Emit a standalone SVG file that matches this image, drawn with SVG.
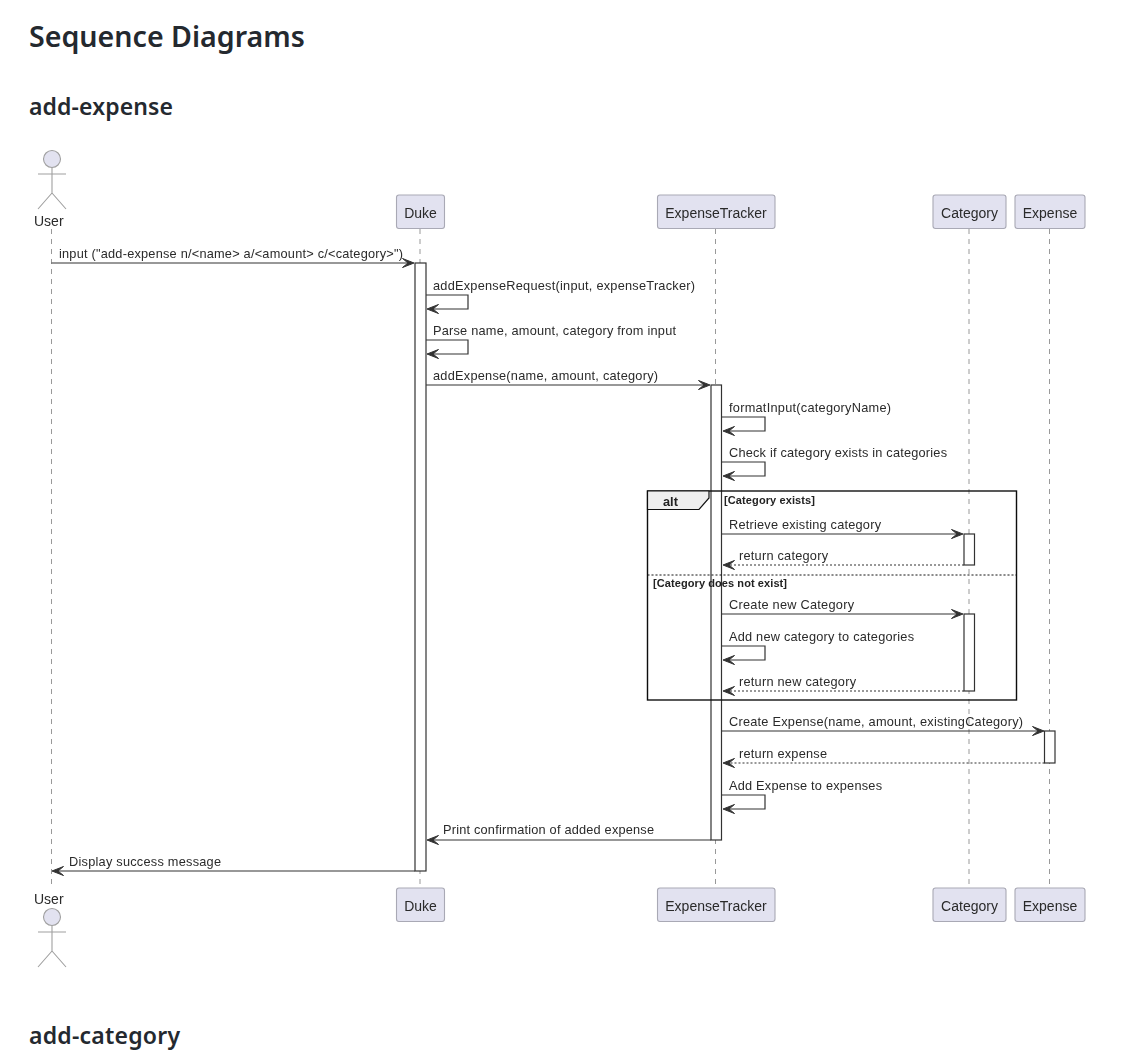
<svg xmlns="http://www.w3.org/2000/svg" width="1134" height="1058" viewBox="0 0 1134 1058">
<style>
.h1{font:600 28.6px "Noto Sans","Open Sans",sans-serif;fill:#24292f}
.h2{font:600 23px "Noto Sans","Open Sans",sans-serif;fill:#24292f}
.t{font:12.75px "Liberation Sans",Arial,sans-serif;fill:#2a2a2a}
.n{font:14px "Liberation Sans",Arial,sans-serif;fill:#2a2a2a}
.g{font:bold 11px "Liberation Sans",Arial,sans-serif;fill:#222}
.a{font:bold 12.75px "Liberation Sans",Arial,sans-serif;fill:#222}
.box{fill:#e2e2f0;stroke:#a9a9b5;stroke-width:1.1}
.act{fill:#fff;stroke:#333;stroke-width:1.2}
.life{stroke:#999;stroke-width:1;stroke-dasharray:5 5;fill:none}
.m{stroke:#333;stroke-width:1.2;fill:none}
.d{stroke:#333;stroke-width:1.2;fill:none;stroke-dasharray:2 2}
.hd{fill:#333;stroke:#333;stroke-width:1}
.ac{stroke:#a0a0a0;stroke-width:1.1;fill:none}
</style>
<defs>
<filter id="soft" filterUnits="userSpaceOnUse" x="0" y="0" width="1134" height="1058"><feGaussianBlur stdDeviation="0.35"/></filter>
<path id="ar" class="hd" d="M0 0 L-11.5 -4.5 L-6 0 L-11.5 4.5 Z"/>
<path id="al" class="hd" d="M0 0 L11.5 -4.5 L6 0 L11.5 4.5 Z"/>
<g id="stick"><circle cx="0" cy="0" r="8.5" fill="#e2e2f0" stroke="#a0a0a0" stroke-width="1.1"/><path class="ac" d="M0 8.5V34M-14 15H14M0 34L-14 50M0 34L14 50"/></g>
</defs>
<rect width="1134" height="1058" fill="#fff"/>
<text class="h1" x="29" y="47">Sequence Diagrams</text>
<text class="h2" x="29" y="115" textLength="144">add-expense</text>
<text class="h2" x="29" y="1044" textLength="151">add-category</text>
<g filter="url(#soft)">
<g id="lifelines">
<path class="life" d="M51.5 229V888"/>
<path class="life" d="M420 229V888"/>
<path class="life" d="M715.5 229V888"/>
<path class="life" d="M969 229V888"/>
<path class="life" d="M1049.5 229V888"/>
</g>
<g id="activations">
<rect class="act" x="415" y="263" width="11" height="608"/>
<rect class="act" x="711" y="385" width="10.5" height="455"/>
<rect class="act" x="964" y="534" width="10.5" height="31"/>
<rect class="act" x="964" y="614" width="10.5" height="77"/>
<rect class="act" x="1044.5" y="731" width="10.5" height="32"/>
</g>
<g id="frame-alt">
<rect x="647.5" y="491" width="369" height="209" fill="none" stroke="#111" stroke-width="1.4"/>
<path d="M647.5 491H709V498L699 509.5H647.5Z" fill="#eee" stroke="#111" stroke-width="1.2"/>
<path d="M647.5 575H1016.5" stroke="#111" stroke-width="1" stroke-dasharray="2 2" fill="none"/>
<text class="a" x="663" y="506">alt</text>
<text class="g" x="724" y="504" textLength="91">[Category exists]</text>
<text class="g" x="653" y="587" textLength="134">[Category does not exist]</text>
</g>
<g id="connectors">
<path class="m" d="M51.5 263H410"/><use href="#ar" x="414" y="263"/>
<path class="m" d="M426 295H468V309H431"/><use href="#al" x="427" y="309"/>
<path class="m" d="M426 340H468V354H431"/><use href="#al" x="427" y="354"/>
<path class="m" d="M426 385H706"/><use href="#ar" x="710" y="385"/>
<path class="m" d="M721.5 417H765V431H727"/><use href="#al" x="723" y="431"/>
<path class="m" d="M721.5 462H765V476H727"/><use href="#al" x="723" y="476"/>
<path class="m" d="M721.5 534H959"/><use href="#ar" x="963" y="534"/>
<path class="d" d="M964 565H728"/><use href="#al" x="723" y="565"/>
<path class="m" d="M721.5 614H959"/><use href="#ar" x="963" y="614"/>
<path class="m" d="M721.5 646H765V660H727"/><use href="#al" x="723" y="660"/>
<path class="d" d="M964 691H728"/><use href="#al" x="723" y="691"/>
<path class="m" d="M721.5 731H1040"/><use href="#ar" x="1044" y="731"/>
<path class="d" d="M1044.5 763H728"/><use href="#al" x="723" y="763"/>
<path class="m" d="M721.5 795H765V809H727"/><use href="#al" x="723" y="809"/>
<path class="m" d="M711 840H431"/><use href="#al" x="427" y="840"/>
<path class="m" d="M415 871H56"/><use href="#al" x="52" y="871"/>
</g>
<g id="labels">
<text class="t" x="59" y="258" textLength="344">input ("add-expense n/&lt;name&gt; a/&lt;amount&gt; c/&lt;category&gt;")</text>
<text class="t" x="433" y="290" textLength="262">addExpenseRequest(input, expenseTracker)</text>
<text class="t" x="433" y="335" textLength="243">Parse name, amount, category from input</text>
<text class="t" x="433" y="380" textLength="225">addExpense(name, amount, category)</text>
<text class="t" x="729" y="412" textLength="162">formatInput(categoryName)</text>
<text class="t" x="729" y="457" textLength="218">Check if category exists in categories</text>
<text class="t" x="729" y="529" textLength="152">Retrieve existing category</text>
<text class="t" x="739" y="560" textLength="89">return category</text>
<text class="t" x="729" y="609" textLength="125">Create new Category</text>
<text class="t" x="729" y="641" textLength="185">Add new category to categories</text>
<text class="t" x="739" y="686" textLength="117">return new category</text>
<text class="t" x="729" y="726" textLength="294">Create Expense(name, amount, existingCategory)</text>
<text class="t" x="739" y="758" textLength="88">return expense</text>
<text class="t" x="729" y="790" textLength="153">Add Expense to expenses</text>
<text class="t" x="443" y="834" textLength="211">Print confirmation of added expense</text>
<text class="t" x="69" y="866" textLength="152">Display success message</text>
</g>
</g>
<g filter="url(#soft)">
<g id="node-user-top"><use href="#stick" x="52" y="159"/><text class="n" x="34" y="226">User</text></g>
<g id="node-duke-top"><rect class="box" x="396.5" y="195" width="48" height="33.5" rx="2.5"/><text class="n" x="420.5" y="218" text-anchor="middle">Duke</text></g>
<g id="node-tracker-top"><rect class="box" x="657.5" y="195" width="117.5" height="33.5" rx="2.5"/><text class="n" x="716" y="218" text-anchor="middle">ExpenseTracker</text></g>
<g id="node-category-top"><rect class="box" x="933" y="195" width="73" height="33.5" rx="2.5"/><text class="n" x="969.5" y="218" text-anchor="middle">Category</text></g>
<g id="node-expense-top"><rect class="box" x="1015" y="195" width="70" height="33.5" rx="2.5"/><text class="n" x="1050" y="218" text-anchor="middle">Expense</text></g>
<g id="node-user-bottom"><text class="n" x="34" y="904">User</text><use href="#stick" x="52" y="917"/></g>
<g id="node-duke-bottom"><rect class="box" x="396.5" y="888" width="48" height="33.5" rx="2.5"/><text class="n" x="420.5" y="911" text-anchor="middle">Duke</text></g>
<g id="node-tracker-bottom"><rect class="box" x="657.5" y="888" width="117.5" height="33.5" rx="2.5"/><text class="n" x="716" y="911" text-anchor="middle">ExpenseTracker</text></g>
<g id="node-category-bottom"><rect class="box" x="933" y="888" width="73" height="33.5" rx="2.5"/><text class="n" x="969.5" y="911" text-anchor="middle">Category</text></g>
<g id="node-expense-bottom"><rect class="box" x="1015" y="888" width="70" height="33.5" rx="2.5"/><text class="n" x="1050" y="911" text-anchor="middle">Expense</text></g>
</g>
</svg>
